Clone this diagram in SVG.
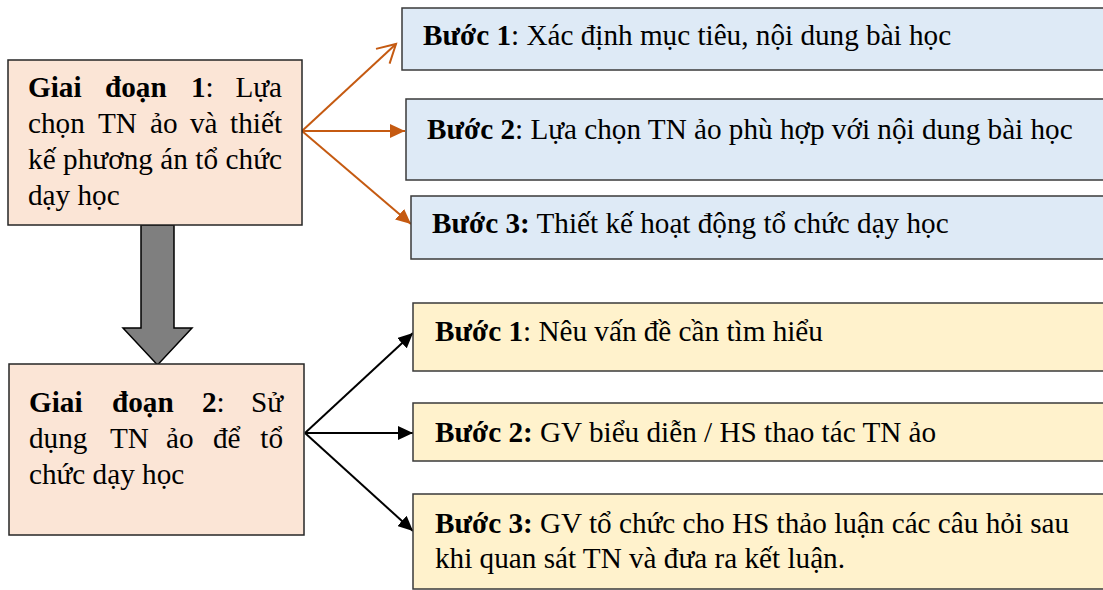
<svg xmlns="http://www.w3.org/2000/svg" width="1103" height="590" viewBox="0 0 1103 590">
<style>
text{font-family:"Liberation Serif","Times New Roman",serif;font-size:29.2px;fill:#000}
.b{font-weight:bold}
.end{text-anchor:end}
.stage{fill:#FBE5D6;stroke:#262626;stroke-width:1.5}
.blue{fill:#DEEAF6;stroke:#3a3a3a;stroke-width:1.5}
.yel{fill:#FFF2CC;stroke:#3a3a3a;stroke-width:1.5}
.oa{stroke:#C55A11;stroke-width:2;fill:none}
.ka{stroke:#000;stroke-width:2;fill:none}
</style>
<defs>
<marker id="oFill" markerUnits="userSpaceOnUse" markerWidth="16" markerHeight="14" refX="15" refY="7" orient="auto">
<path d="M0,0 L15,7 L0,14 z" fill="#C55A11"/>
</marker>
<marker id="oOpen" markerUnits="userSpaceOnUse" markerWidth="22" markerHeight="24" refX="19" refY="11" orient="auto">
<path d="M1,1 L19,11 L1,21" fill="none" stroke="#C55A11" stroke-width="2"/>
</marker>
<marker id="kFill" markerUnits="userSpaceOnUse" markerWidth="16" markerHeight="14" refX="15" refY="7" orient="auto">
<path d="M0,0 L15,7 L0,14 z" fill="#000"/>
</marker>
</defs>

<g id="connectors">
<line class="oa" x1="302" y1="131" x2="396" y2="44" marker-end="url(#oOpen)"/>
<line class="oa" x1="302" y1="131" x2="405" y2="131" marker-end="url(#oFill)"/>
<line class="oa" x1="302" y1="131" x2="411" y2="224" marker-end="url(#oFill)"/>
<line class="ka" x1="305" y1="433" x2="413" y2="333" marker-end="url(#kFill)"/>
<line class="ka" x1="305" y1="433" x2="413" y2="433" marker-end="url(#kFill)"/>
<line class="ka" x1="305" y1="433" x2="413" y2="531" marker-end="url(#kFill)"/>
<polygon id="bigArrow" points="141,225 174,225 174,328 192,328 157.5,365 123,328 141,328" fill="#7F7F7F" stroke="#000" stroke-width="1.5"/>
</g>

<g id="stage1">
<rect class="stage" x="8" y="60" width="294" height="165"/>
<text class="b" x="28" y="97">Giai</text>
<text class="b" x="105" y="97">đoạn</text>
<text x="191" y="97"><tspan class="b">1</tspan>:</text>
<text class="end" x="282" y="97">Lựa</text>
<text x="28" y="133">chọn</text>
<text x="98" y="133">TN</text>
<text x="150" y="133">ảo</text>
<text x="190" y="133">và</text>
<text class="end" x="282" y="133">thiết</text>
<text x="28" y="169" textLength="254" lengthAdjust="spacing">kế phương án tổ chức</text>
<text x="28" y="205">dạy học</text>
</g>

<g id="stage2">
<rect class="stage" x="9" y="364" width="295" height="171"/>
<text class="b" x="29" y="412">Giai</text>
<text class="b" x="112" y="412">đoạn</text>
<text x="202" y="412"><tspan class="b">2</tspan>:</text>
<text class="end" x="283" y="412">Sử</text>
<text x="29" y="448">dụng</text>
<text x="110" y="448">TN</text>
<text x="166" y="448">ảo</text>
<text x="213" y="448">để</text>
<text class="end" x="283" y="448">tổ</text>
<text x="29" y="484">chức dạy học</text>
</g>

<g id="b1">
<rect class="blue" x="402" y="8" width="720" height="62"/>
<text x="423" y="45"><tspan class="b">Bước 1</tspan>: Xác định mục tiêu, nội dung bài học</text>
</g>
<g id="b2">
<rect class="blue" x="406" y="99" width="720" height="81"/>
<text x="427" y="139"><tspan class="b">Bước 2</tspan>: Lựa chọn TN ảo phù hợp với nội dung bài học</text>
</g>
<g id="b3">
<rect class="blue" x="411" y="196" width="720" height="63"/>
<text x="432" y="233"><tspan class="b">Bước 3:</tspan> Thiết kế hoạt động tổ chức dạy học</text>
</g>

<g id="c1">
<rect class="yel" x="413" y="303" width="720" height="68"/>
<text x="435" y="341"><tspan class="b">Bước 1</tspan>: Nêu vấn đề cần tìm hiểu</text>
</g>
<g id="c2">
<rect class="yel" x="413" y="403" width="720" height="58"/>
<text x="435" y="442"><tspan class="b">Bước 2:</tspan> GV biểu diễn / HS thao tác TN ảo</text>
</g>
<g id="c3">
<rect class="yel" x="413" y="494" width="720" height="95"/>
<text x="435" y="533"><tspan class="b">Bước 3:</tspan> GV tổ chức cho HS thảo luận các câu hỏi sau</text>
<text x="435" y="568">khi quan sát TN và đưa ra kết luận.</text>
</g>
</svg>
